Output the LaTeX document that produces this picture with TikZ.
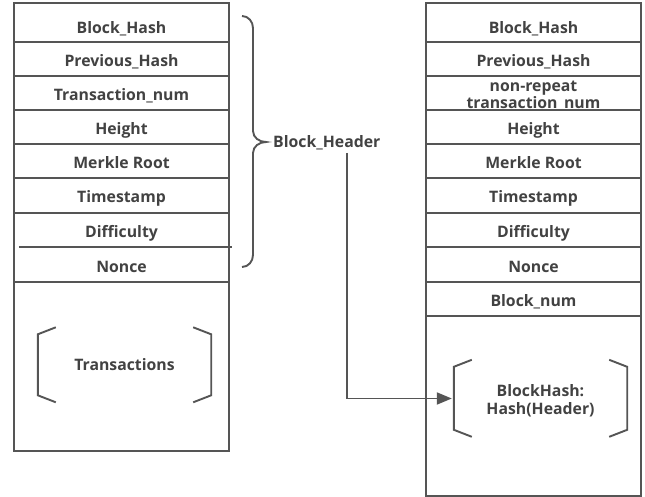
\documentclass[tikz,border=0pt]{standalone}
\usepackage{fontspec}
\setmainfont{Open Sans}
\usetikzlibrary{arrows.meta}
\definecolor{txt}{HTML}{424242}
\definecolor{ln}{HTML}{555555}
\begin{document}
\begin{tikzpicture}[x=1pt,y=-1pt,
  fieldbase/.style={inner sep=0pt, minimum width=215pt, font=\fontsize{15.8}{17}\selectfont\bfseries, text=txt},
  field/.style={fieldbase, text height=15pt, text depth=0pt},
  topfield/.style={fieldbase, text height=22pt, text depth=0pt},
  sepline/.style={draw=ln, line width=1.8pt},
  frame/.style={draw=ln, line width=2.1pt},
  bracket/.style={draw=ln, line width=1.9pt},
  label/.style={inner sep=0pt, font=\fontsize{15.8}{18.5}\selectfont\bfseries, text=txt, align=center},
  conn/.style={draw=ln, line width=1.9pt, -{Triangle[length=15pt,width=12pt]}}]
\useasboundingbox (0,0) rectangle (645,497);
% left block
\node[topfield, minimum height=39pt] (l1) at (121.5,22.5) {Block\_Hash};
\node[field, minimum height=34pt] (l2) at (121.5,59) {Previous\_Hash};
\node[field, minimum height=34pt] (l3) at (121.5,93) {Transaction\_num};
\node[field, minimum height=34pt] (l4) at (121.5,127) {Height};
\node[field, minimum height=34pt] (l5) at (121.5,161) {Merkle Root};
\node[field, minimum height=35pt] (l6) at (121.5,195.5) {Timestamp};
\node[field, minimum height=34pt] (l7) at (121.5,230) {Difficulty};
\node[field, minimum height=35pt] (l8) at (121.5,264.5) {Nonce};
\node[fieldbase, minimum height=169pt] (lb) at (121.5,366.5) {};
\draw[frame] (l1.north west) rectangle (lb.south east);
\foreach \r in {l1,l2,l3,l4,l5,l6,l8} \draw[sepline] (\r.south west) -- (\r.south east);
\draw[sepline] ([xshift=5pt]l7.south west) -- ([xshift=3pt]l7.south east);
\node[label, minimum width=173pt, minimum height=75pt] (tx) at (124.5,365) {Transactions};
\draw[bracket] ([xshift=18pt]tx.north west) -- ++(-18,7) -- ++(0,61) -- ++(18,7);
\draw[bracket] ([xshift=-18pt]tx.north east) -- ++(18,7) -- ++(0,61) -- ++(-18,7);
% brace
\draw[bracket] (242,16) to[out=0,in=90] (253,28) -- (253,131) to[out=-90,in=180] (266,142)
  to[out=180,in=90] (253,153) -- (253,255) to[out=-90,in=0] (242,267);
\node[label, anchor=west] (hdr) at (273,143) {Block\_Header};
% right block
\node[topfield, minimum height=39pt] (r1) at (533.5,22.5) {Block\_Hash};
\node[field, minimum height=34pt] (r2) at (533.5,59) {Previous\_Hash};
\node[fieldbase, minimum height=34pt] (r3) at (533.5,93) {\raisebox{-3pt}[\height][\depth]{\parbox{215pt}{\centering non-repeat\\transaction\_num}}};
\node[field, minimum height=34pt] (r4) at (533.5,127) {Height};
\node[field, minimum height=34pt] (r5) at (533.5,161) {Merkle Root};
\node[field, minimum height=35pt] (r6) at (533.5,195.5) {Timestamp};
\node[field, minimum height=34pt] (r7) at (533.5,230) {Difficulty};
\node[field, minimum height=35pt] (r8) at (533.5,264.5) {Nonce};
\node[field, minimum height=34pt] (r9) at (533.5,299) {Block\_num};
\node[fieldbase, minimum height=180pt] (rb) at (533.5,406) {};
\draw[frame] (r1.north west) rectangle (rb.south east);
\foreach \r in {r1,r2,r3,r4,r5,r6,r7,r8,r9} \draw[sepline] (\r.south west) -- (\r.south east);
\node[label, minimum width=173pt, minimum height=77pt] (hb) at (540.5,398.5) {\raisebox{-2pt}[\height][\depth]{\parbox{173pt}{\centering BlockHash:\\Hash(Header)}}};
\draw[bracket] ([xshift=18pt]hb.north west) -- ++(-18,7) -- ++(0,63) -- ++(18,7);
\draw[bracket] ([xshift=-18pt]hb.north east) -- ++(18,7) -- ++(0,63) -- ++(-18,7);
% connector
\coordinate (a0) at (347,153);
\draw[conn, shorten >=2pt] (a0) |- (hb.west);
\end{tikzpicture}
\end{document}
